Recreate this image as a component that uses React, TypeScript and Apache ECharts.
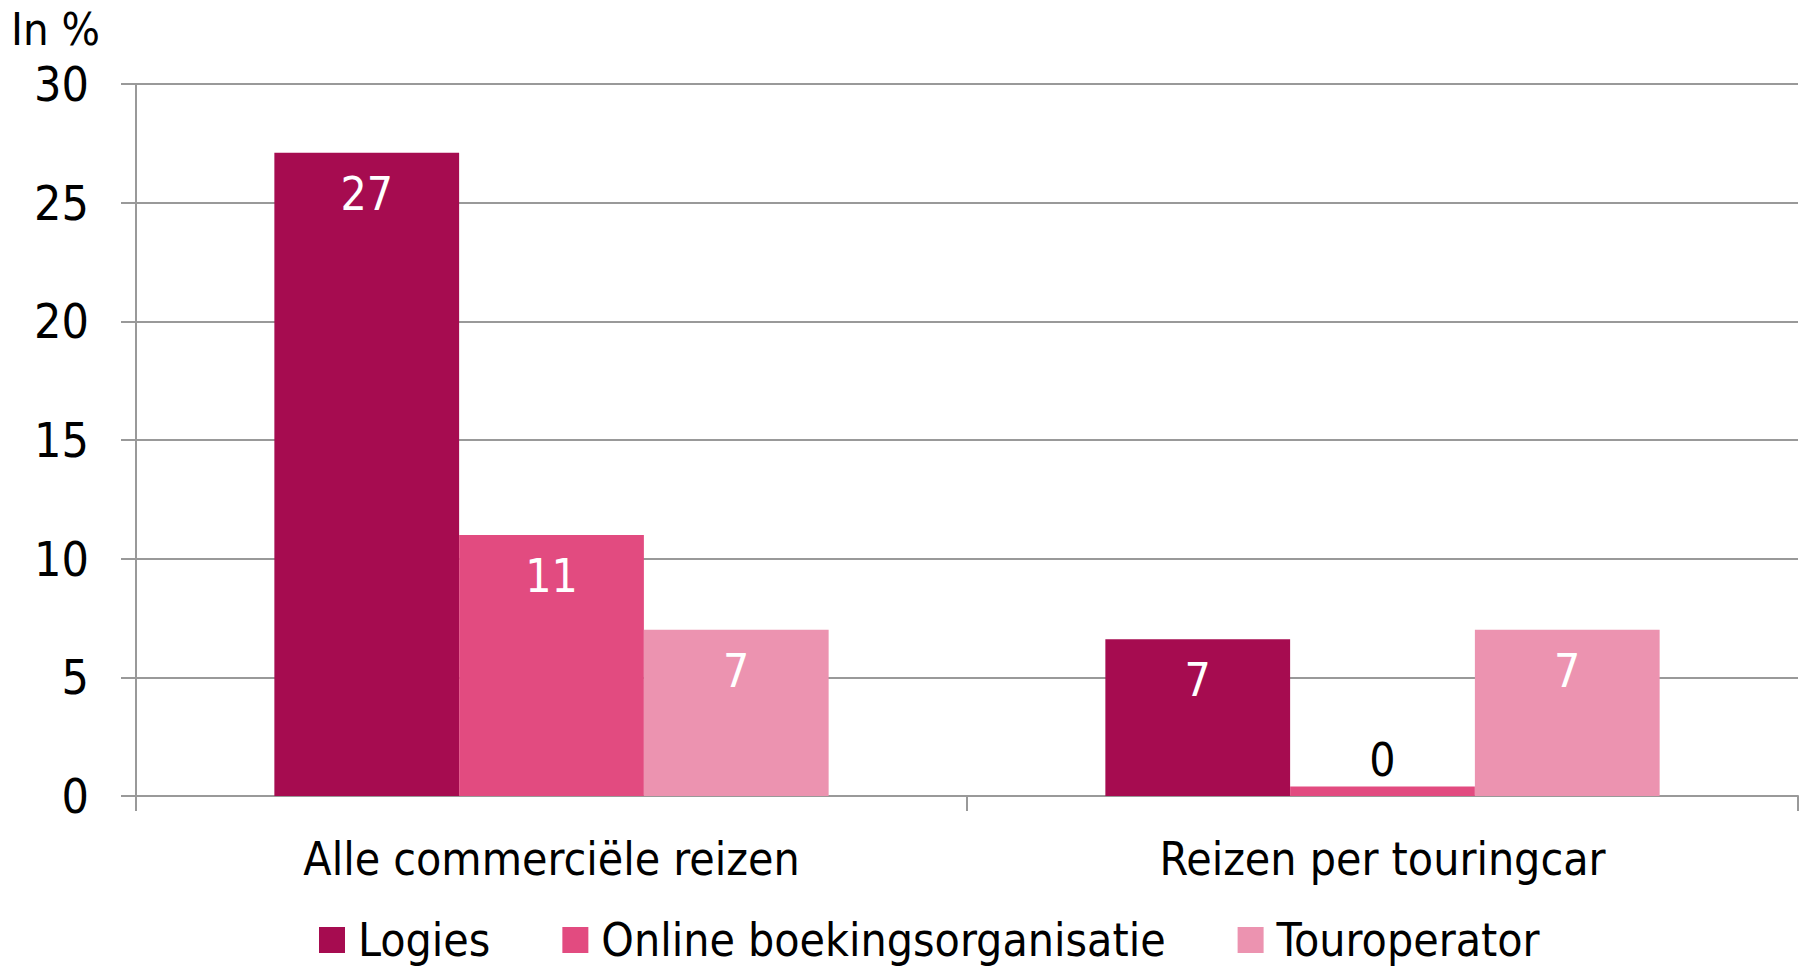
import React, { useEffect, useRef } from "react";
import * as echarts from "echarts";

const categories = ["Alle commerciële reizen", "Reizen per touringcar"];
const seriesNames = ["Logies", "Online boekingsorganisatie", "Touroperator"];
const logies = [27.1, 6.6];
const online = [11.0, 0.4];
const touroperator = [7.0, 7.0];
const yTicks = [0, 5, 10, 15, 20, 25, 30];
const unitLabel = "In %";

const colors = ["#A60C50", "#E24B80", "#EC93B0"];
const FONT = "'DejaVu Sans Condensed', 'DejaVu Sans', sans-serif";

export default function App() {
  const ref = useRef<HTMLDivElement>(null);
  useEffect(() => {
    if (!ref.current) return;
    const chart = echarts.init(ref.current, null, { renderer: "svg" });
    const valuesList = [logies, online, touroperator];
    const makeData = (vals: number[]) =>
      vals.map((v) => {
        if (v < 2) {
          return {
            value: v,
            label: { position: "top", color: "#000", distance: 4 },
          };
        }
        return { value: v };
      });
    chart.setOption({
      animation: false,
      textStyle: { fontFamily: FONT },
      title: {
        text: unitLabel,
        left: 6,
        top: 2,
        textStyle: { fontFamily: FONT, fontSize: 45, fontWeight: "normal", color: "#000" },
      },
      legend: {
        left: 314,
        bottom: -2,
        itemWidth: 26,
        itemHeight: 26,
        itemGap: 72,
        icon: "rect",
        textStyle: { fontFamily: FONT, fontSize: 46, color: "#000", padding: [0, 0, 0, 8] },
        data: seriesNames,
      },
      grid: { left: 136, right: 10, top: 84, bottom: 170, containLabel: false },
      xAxis: {
        type: "category",
        data: categories,
        axisLine: { show: true, lineStyle: { color: "#999999", width: 2 } },
        axisTick: { show: true, length: 15, lineStyle: { color: "#999999", width: 2 } },
        axisLabel: { fontFamily: FONT, fontSize: 46, color: "#000", margin: 40 },
      },
      yAxis: {
        type: "value",
        min: yTicks[0],
        max: yTicks[yTicks.length - 1],
        interval: 5,
        axisLine: { show: true, lineStyle: { color: "#999999", width: 2 } },
        axisTick: { show: true, length: 15, lineStyle: { color: "#999999", width: 2 } },
        splitLine: { show: true, lineStyle: { color: "#999999", width: 2 } },
        axisLabel: { fontFamily: FONT, fontSize: 48, color: "#000", margin: 47 },
      },
      series: valuesList.map((vals, i) => ({
        name: seriesNames[i],
        type: "bar",
        data: makeData(vals),
        itemStyle: { color: colors[i] },
        barGap: "0%",
        barCategoryGap: "33.3%",
        label: {
          show: true,
          position: "insideTop",
          distance: 18,
          color: "#fff",
          fontFamily: FONT,
          fontSize: 46,
          formatter: (p: any) => String(Math.round(p.value)),
        },
      })),
    });
    return () => chart.dispose();
  }, []);
  return (
    <div
      ref={ref}
      style={{ position: "fixed", left: 0, top: 0, width: 1808, height: 966, background: "#fff" }}
    />
  );
}
